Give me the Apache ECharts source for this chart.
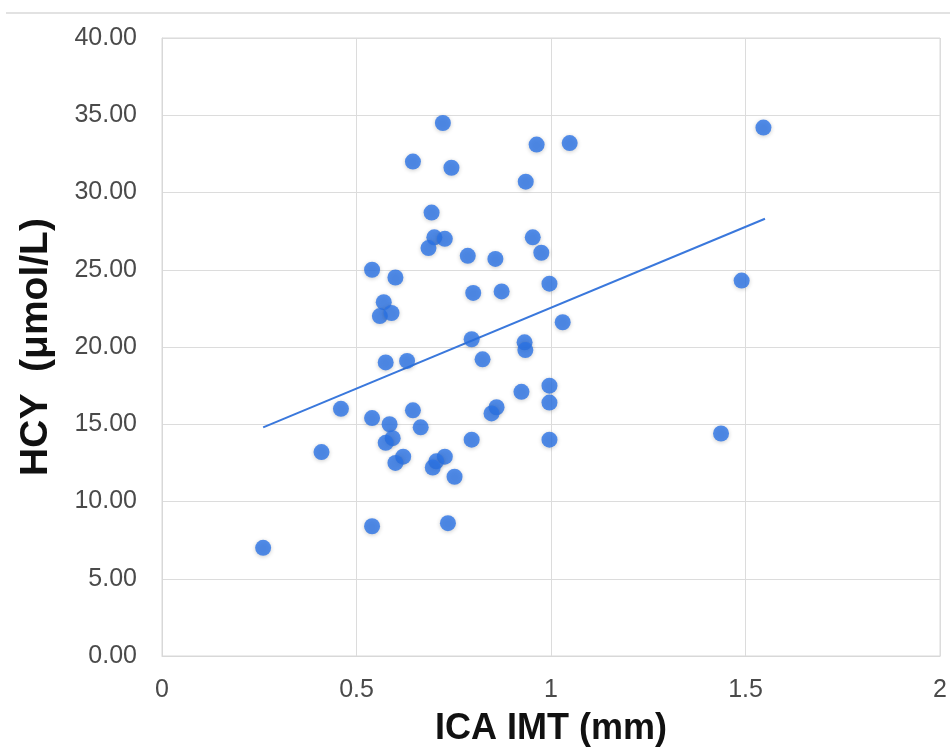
<!DOCTYPE html>
<html>
<head>
<meta charset="utf-8">
<script src="https://cdn.jsdelivr.net/npm/echarts@6/dist/echarts.min.js"></script>
<style>
  html, body { margin: 0; padding: 0; background: #fff; }
  #main { width: 950px; height: 756px; }
</style>
</head>
<body>
<div id="main"></div>
<script>
// ICA IMT (mm) vs HCY (umol/L)
var imt = [
  0.26, 0.41, 0.46, 0.54, 0.54, 0.54, 0.60, 0.57, 0.56, 0.59,
  0.575, 0.63, 0.585, 0.645, 0.665, 0.593, 0.575, 0.62, 0.60, 0.727,
  0.705, 0.696, 0.752, 0.796, 0.735, 0.722, 0.645, 0.744, 0.693, 0.70,
  0.727, 0.685, 0.786, 0.80, 0.796, 0.963, 1.048, 0.935, 0.953, 0.975,
  0.857, 0.996, 0.873, 1.03, 0.824, 0.932, 0.934, 0.924, 0.996, 0.996,
  0.86, 0.847, 0.996, 1.546, 1.49, 1.437
];
var hcy = [
  7.0, 13.2, 16.0, 8.4, 15.4, 25.0, 24.5, 22.9, 22.0, 22.2,
  19.0, 19.1, 15.0, 15.9, 14.8, 14.1, 13.8, 12.9, 12.5, 12.9,
  12.6, 12.2, 11.6, 14.0, 8.6, 34.5, 32.0, 31.6, 28.7, 27.1,
  27.0, 26.4, 25.9, 23.5, 20.5, 33.1, 33.2, 30.7, 27.1, 26.1,
  25.7, 24.1, 23.6, 21.6, 19.2, 20.3, 19.8, 17.1, 17.5, 16.4,
  16.1, 15.7, 14.0, 34.2, 24.3, 14.4
];
// trend line end points
var trendX = [0.26, 1.55];
var trendY = [14.8, 28.3];

var xTicks = [0, 0.5, 1, 1.5, 2];
var yTicks = [0, 5, 10, 15, 20, 25, 30, 35, 40];

var points = imt.map(function (x, i) { return [x, hcy[i]]; });
var trend = trendX.map(function (x, i) { return [x, trendY[i]]; });

var chart = echarts.init(document.getElementById('main'));
var labelFont = { fontFamily: 'Liberation Sans', fontSize: 25, color: '#4a4a4a' };
var nameFont = { fontFamily: 'Liberation Sans', fontWeight: 'bold', color: '#111' };

chart.setOption({
  animation: false,
  graphic: [{
    type: 'rect',
    shape: { x: 6, y: 12, width: 944, height: 2 },
    style: { fill: '#e2e2e2' }
  }],
  grid: {
    left: 162, right: 7, top: 38, bottom: 100,
    show: true, borderColor: '#d8d8d8', borderWidth: 1
  },
  xAxis: {
    type: 'value',
    min: xTicks[0], max: xTicks[xTicks.length - 1], interval: 0.5,
    name: 'ICA IMT (mm)', nameLocation: 'middle', nameGap: 55,
    nameTextStyle: Object.assign({ fontSize: 36 }, nameFont),
    axisLine: { show: true, lineStyle: { color: '#d8d8d8' } },
    axisTick: { show: false },
    axisLabel: Object.assign({ margin: 22, showMaxLabel: true }, labelFont),
    splitLine: { show: true, lineStyle: { color: '#dcdcdc' } }
  },
  yAxis: {
    type: 'value',
    min: yTicks[0], max: yTicks[yTicks.length - 1], interval: 5,
    name: 'HCY  (μmol/L)', nameLocation: 'middle', nameGap: 106,
    nameTextStyle: Object.assign({ fontSize: 39 }, nameFont),
    axisLine: { show: true, lineStyle: { color: '#d8d8d8' } },
    axisTick: { show: false },
    axisLabel: Object.assign({
      margin: 25,
      formatter: function (v) { return v.toFixed(2); }
    }, labelFont),
    splitLine: { show: true, lineStyle: { color: '#dcdcdc' } }
  },
  series: [
    {
      type: 'line',
      data: trend,
      symbol: 'none',
      lineStyle: { color: '#3a78dc', width: 2 },
      z: 2
    },
    {
      type: 'scatter',
      data: points,
      symbolSize: 16,
      itemStyle: {
        color: '#2a73e6',
        shadowBlur: 4,
        shadowColor: 'rgba(0,0,0,0.25)',
        shadowOffsetY: 1
      },
      z: 3
    }
  ]
});
</script>
</body>
</html>
